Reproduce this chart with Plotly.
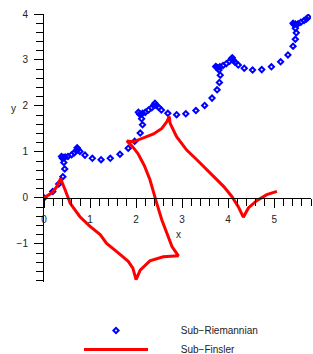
import plotly.graph_objects as go

# Sub-Riemannian geodesic (blue diamonds)
sr_x = [0.00, 0.19, 0.32, 0.41, 0.45, 0.43, 0.40, 0.38, 0.42, 0.46, 0.52, 0.60, 0.66, 0.70, 0.72, 0.74, 0.78,
        0.89, 1.05, 1.24, 1.44, 1.65, 1.83, 1.97,
        2.09, 2.14, 2.12, 2.08, 2.05, 2.09, 2.14, 2.20, 2.27, 2.34, 2.38, 2.41, 2.44, 2.49, 2.55,
        2.69, 2.88, 3.08, 3.30, 3.49, 3.65, 3.76,
        3.81, 3.83, 3.80, 3.75, 3.73, 3.77, 3.82, 3.89, 3.96, 4.03, 4.07, 4.09, 4.12, 4.15, 4.22,
        4.35, 4.53, 4.73, 4.94, 5.14, 5.30,
        5.41, 5.46, 5.48, 5.46, 5.43, 5.41, 5.46, 5.52, 5.58, 5.65, 5.70, 5.74]
sr_y = [0.00, 0.14, 0.30, 0.46, 0.63, 0.77, 0.86, 0.90, 0.88, 0.89, 0.90, 0.94, 0.98, 1.03, 1.09, 1.05, 1.01,
        0.93, 0.86, 0.83, 0.86, 0.95, 1.08, 1.23,
        1.41, 1.59, 1.72, 1.82, 1.86, 1.82, 1.84, 1.86, 1.91, 1.96, 2.01, 2.06, 2.01, 1.97, 1.91,
        1.84, 1.81, 1.83, 1.90, 2.01, 2.17, 2.35,
        2.51, 2.67, 2.78, 2.84, 2.86, 2.83, 2.85, 2.88, 2.92, 2.97, 3.02, 3.05, 2.99, 2.95, 2.89,
        2.82, 2.78, 2.79, 2.85, 2.96, 3.11,
        3.30, 3.45, 3.59, 3.69, 3.77, 3.80, 3.78, 3.79, 3.82, 3.86, 3.89, 3.93]

# Sub-Finsler geodesic (red line)
sf_x = [0.00, 0.10, 0.19, 0.28, 0.36, 0.46, 0.57, 0.78, 1.00, 1.22, 1.36, 1.58, 1.72, 1.83, 1.93, 2.00,
        2.09, 2.30, 2.59, 2.92,
        2.78, 2.67, 2.56, 2.45, 2.38, 2.30, 2.18, 2.05, 1.92, 1.80,
        1.94, 2.16, 2.38, 2.56, 2.67, 2.72,
        2.74, 2.88, 3.10, 3.32, 3.61, 3.90, 4.08, 4.22, 4.33,
        4.44, 4.62, 4.84, 5.06]
sf_y = [0.00, 0.06, 0.12, 0.25, 0.42, 0.17, -0.12, -0.41, -0.62, -0.80, -0.99, -1.17, -1.28, -1.38, -1.53, -1.78,
        -1.57, -1.37, -1.28, -1.26,
        -1.06, -0.77, -0.48, -0.12, 0.15, 0.40, 0.70, 0.95, 1.12, 1.24,
        1.22, 1.30, 1.39, 1.51, 1.66, 1.77,
        1.62, 1.33, 1.04, 0.83, 0.54, 0.25, 0.03, -0.19, -0.42,
        -0.22, -0.06, 0.07, 0.14]

series_names = ["Sub\u2212Riemannian", "Sub\u2212Finsler"]

x_range = [0, 5.8]
y_range = [-1.83, 4]

FONT = "Liberation Sans, Arial, sans-serif"
PAD = "\u00a0" * 10  # pushes legend text right of the symbol column

fig = go.Figure()
fig.add_trace(go.Scatter(
    x=sr_x, y=sr_y, mode="markers", name=PAD + series_names[0],
    marker=dict(symbol="diamond-open", size=4, color="#0000ff", line=dict(width=2, color="#0000ff")),
))
fig.add_trace(go.Scatter(
    x=sf_x, y=sf_y, mode="lines", name=PAD + series_names[1],
    line=dict(color="#ff0000", width=3),
))

y_frac0 = (0 - y_range[0]) / (y_range[1] - y_range[0])

axis_common = dict(
    showgrid=False, zeroline=False, showline=True, linecolor="black", linewidth=1,
    ticks="outside", ticklen=9, tickwidth=1, tickcolor="black", dtick=1, tick0=0,
    tickfont=dict(family=FONT, size=10, color="#222"),
    minor=dict(dtick=0.2, tick0=0, ticks="outside", ticklen=7, tickwidth=1, tickcolor="black", showgrid=False),
)

fig.update_layout(
    width=313, height=354,
    margin=dict(l=44, r=2, t=14, b=72, autoexpand=False),
    plot_bgcolor="white", paper_bgcolor="white",
    xaxis=dict(range=x_range, anchor="free", position=y_frac0, ticklabelstandoff=3, **axis_common),
    yaxis=dict(range=y_range, anchor="x", ticklabelstandoff=4, **axis_common),
    showlegend=True,
    legend=dict(
        xref="container", yref="container", x=79 / 313, y=1 - 316 / 354, xanchor="left", yanchor="top",
        font=dict(family=FONT, size=10, color="#222"), itemwidth=64,
        bgcolor="rgba(0,0,0,0)", tracegroupgap=0,
    ),
    annotations=[
        dict(text="x", x=2.92, y=-0.80, xref="x", yref="y", showarrow=False,
             font=dict(family=FONT, size=10, color="#222")),
        dict(text="y", x=-0.13, y=1.95, xref="paper", yref="y", showarrow=False,
             font=dict(family=FONT, size=10, color="#222")),
    ],
)

fig.write_html("out.html", config={"displayModeBar": False},
               post_script="document.body.style.margin='0';document.body.style.overflow='hidden';")
